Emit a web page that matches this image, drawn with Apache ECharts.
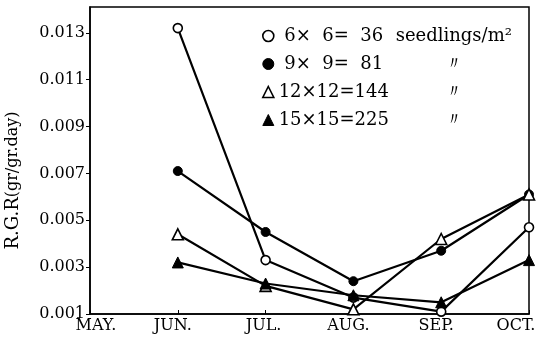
<!DOCTYPE html>
<html>
<head>
<meta charset="utf-8">
<script src="https://cdn.jsdelivr.net/npm/echarts@6/dist/echarts.min.js"></script>
<style>html,body{margin:0;padding:0;background:#fff}#c{width:548px;height:340px}</style>
</head>
<body>
<div id="c"></div>
<script>
const months = ['MAY.', 'JUN.', 'JUL.', 'AUG.', 'SEP.', 'OCT.'];
const yTicks = ['0.001', '0.003', '0.005', '0.007', '0.009', '0.011', '0.013'];
const names = ['6×  6=  36', '9×  9=  81', '12×12=144', '15×15=225'];
const units = ['seedlings/m²', '〃', '〃', '〃'];
const s36 = [null, 0.0132, 0.0033, 0.0017, 0.0011, 0.0047];
const s81 = [null, 0.0071, 0.0045, 0.0024, 0.0037, 0.0061];
const s144 = [null, 0.0044, 0.0022, 0.0012, 0.0042, 0.0061];
const s225 = [null, 0.0032, 0.0023, 0.0018, 0.0015, 0.0033];

const serif = 'DejaVu Serif';
const chart = echarts.init(document.getElementById('c'), null, {renderer: 'canvas'});

const openStyle = {color: '#fff', borderColor: '#000', borderWidth: 1.6};
const fillStyle = {color: '#000', borderColor: '#000', borderWidth: 1};
const symbols = ['circle', 'circle', 'triangle', 'triangle'];
const styles = [openStyle, fillStyle, openStyle, fillStyle];
const sizes = [9, 9, 11, 11];
const values = [s36, s81, s144, s225];

const labelPad = [[0,0,0,12],[0,10,0,0],[0,4,0,0],[0,10,0,0],[0,10,0,0],[0,26,0,0]];
const xRich = {};
labelPad.forEach((p, i) => { xRich['m' + i] = {padding: p, fontFamily: serif, fontSize: 16, color: '#000'}; });

chart.setOption({
  animation: false,
  backgroundColor: '#fff',
  grid: {left: 90, right: 19, top: 7, bottom: 26, outerBoundsMode: 'none', containLabel: false, show: true, borderColor: '#000', borderWidth: 1.5, backgroundColor: 'transparent'},
  xAxis: {
    type: 'category',
    data: months,
    boundaryGap: false,
    axisLine: {lineStyle: {color: '#000', width: 1.5}},
    axisTick: {inside: true, length: 4, lineStyle: {color: '#000'}},
    axisLabel: {
      margin: 4,
      formatter: (v, i) => '{m' + i + '|' + v + '}',
      rich: xRich
    },
    splitLine: {show: false}
  },
  yAxis: {
    type: 'value',
    min: 0.001,
    max: 0.0141,
    interval: 0.002,
    axisLine: {show: true, lineStyle: {color: '#000', width: 1.5}},
    axisTick: {show: true, inside: false, length: 4, lineStyle: {color: '#000'}},
    axisLabel: {
      margin: 5,
      showMaxLabel: false,
      color: '#000',
      fontFamily: serif,
      fontSize: 16,
      formatter: v => {
        const s = v.toFixed(3);
        return yTicks.indexOf(s) >= 0 ? s : '';
      }
    },
    splitLine: {show: false},
    name: '{a|R.G.R}{b|(gr/gr.day)}',
    nameLocation: 'middle',
    nameRotate: 90,
    nameGap: 68,
    nameTextStyle: {
      padding: [0, 40, 0, 0],
      rich: {
        a: {fontFamily: serif, fontSize: 18, color: '#000'},
        b: {fontFamily: serif, fontSize: 16, color: '#000'}
      }
    }
  },
  legend: {
    orient: 'vertical',
    left: 257,
    top: 22,
    itemWidth: 11,
    itemHeight: 11,
    itemGap: 10,
    data: names.map((n, i) => ({name: n, icon: symbols[i], itemStyle: styles[i]})),
    formatter: name => {
      const i = names.indexOf(name);
      return '{a|' + name + '}{b|' + units[i] + '}';
    },
    textStyle: {
      rich: {
        a: {width: 110, align: 'right', fontFamily: serif, fontSize: 18, lineHeight: 18, color: '#000'},
        b: {width: 130, align: 'center', fontFamily: serif, fontSize: 18, lineHeight: 18, color: '#000'}
      }
    }
  },
  series: names.map((n, i) => ({
    name: n,
    type: 'line',
    data: values[i],
    symbol: symbols[i],
    symbolSize: sizes[i],
    showAllSymbol: true,
    connectNulls: false,
    lineStyle: {color: '#000', width: 2.2},
    itemStyle: styles[i],
    z: 2 + i
  }))
});
</script>
</body>
</html>
